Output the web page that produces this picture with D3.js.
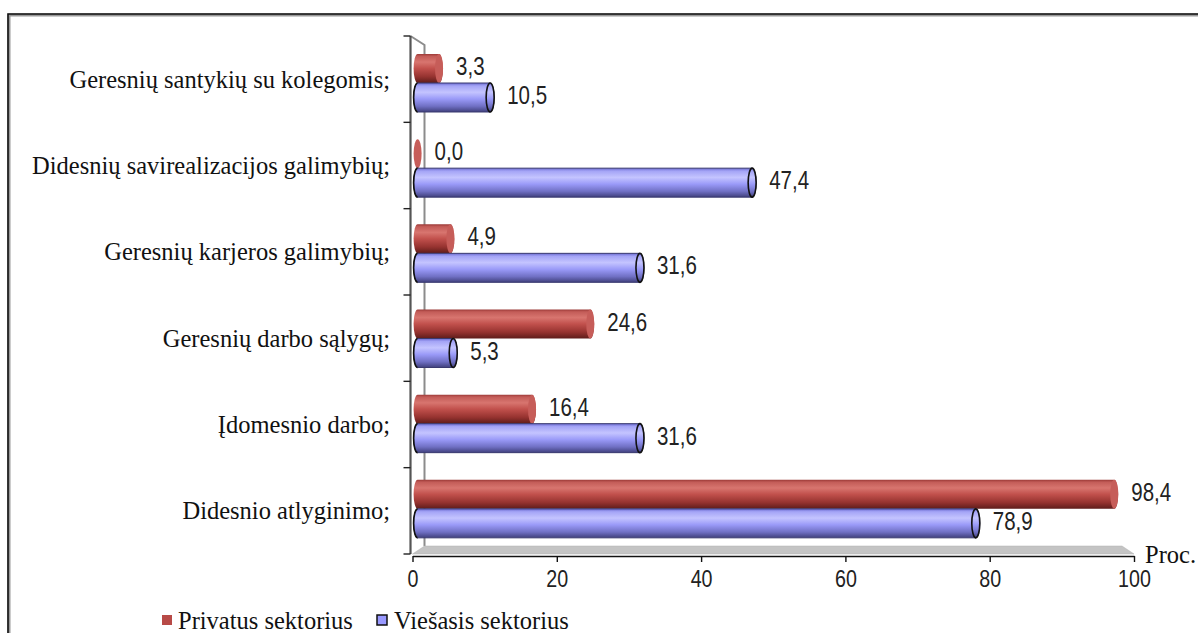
<!DOCTYPE html>
<html>
<head>
<meta charset="utf-8">
<script src="https://cdn.jsdelivr.net/npm/d3@7"></script>
<style>
  html, body { margin: 0; padding: 0; background: #fff; }
  svg { display: block; }
  .serif { font-family: "Liberation Serif", "Times New Roman", "DejaVu Serif", serif; }
  .sans { font-family: "Liberation Sans", Arial, sans-serif; }
</style>
</head>
<body>
<div id="chart"></div>
<script>
// categories from top to bottom
const categories = [
    'Geresnių santykių su kolegomis;',
    'Didesnių savirealizacijos galimybių;',
    'Geresnių karjeros galimybių;',
    'Geresnių darbo sąlygų;',
    'Įdomesnio darbo;',
    'Didesnio atlyginimo;'
];
const privatus = [3.3, 0.0, 4.9, 24.6, 16.4, 98.4];
const viesasis = [10.5, 47.4, 31.6, 5.3, 31.6, 78.9];
const seriesNames = ['Privatus sektorius', 'Viešasis sektorius'];
const xTicks = [0, 20, 40, 60, 80, 100];

const W = 1198, H = 633;
const narrow = 0.82; // squeeze Liberation Sans to look like Arial Narrow

const svg = d3.select('#chart').append('svg').attr('width', W).attr('height', H);
const defs = svg.append('defs');

function gradient(id, stops) {
    const g = defs.append('linearGradient').attr('id', id)
        .attr('x1', 0).attr('y1', 0).attr('x2', 0).attr('y2', 1);
    stops.forEach(s => g.append('stop').attr('offset', s[0]).attr('stop-color', s[1]));
}
gradient('gRed', [[0, '#9c3a37'], [0.08, '#c35c58'], [0.28, '#d8756f'], [0.5, '#c1504c'], [0.78, '#963330'], [1, '#5e1c1a']]);
gradient('gBlue', [[0, '#6a6ad0'], [0.1, '#a4a4f6'], [0.32, '#c4c4ff'], [0.55, '#9a9af8'], [0.8, '#7070c4'], [1, '#40407c']]);

// outer frame
svg.append('path')
    .attr('d', `M9 ${H} V15 H${W}`)
    .attr('fill', 'none').attr('stroke', '#999').attr('stroke-width', 3);
svg.append('path')
    .attr('d', `M8 ${H} V14 H${W}`)
    .attr('fill', 'none').attr('stroke', '#111').attr('stroke-width', 1.6);

// front axis scale and the (deeper) plane where bars sit
const x = d3.scaleLinear().domain([0, 100]).range([412.5, 1134]);
const xb = d3.scaleLinear().domain([0, 100]).range([419.6, 1129.6]);
const yAxis = d3.scaleBand().domain(categories).range([36, 554]);
const yBars = d3.scaleBand().domain(categories).range([50, 561]);
const depthX = 12, depthY = 8;
const x0 = x(0), yb = 554;

// side wall and floor
svg.append('path')
    .attr('d', `M${x0 - 2} 36 L${x0 + depthX} 45 V${yb - depthY}`)
    .attr('fill', 'none').attr('stroke', '#8c8c8c').attr('stroke-width', 2);
svg.append('polygon')
    .attr('points', [[x0, yb], [x0 + depthX, yb - depthY], [x(100) - depthX, yb - depthY], [x(100), yb]].join(' '))
    .attr('fill', '#c4c4c4').attr('stroke', '#b0b0b0').attr('stroke-width', 0.5);

// left axis with category ticks
const tickVals = categories.map(c => yAxis(c)).concat([yb]);
const leftAxis = svg.append('g');
leftAxis.append('line').attr('x1', x0 - 2).attr('x2', x0 - 2).attr('y1', 36).attr('y2', yb)
    .attr('stroke', '#555').attr('stroke-width', 2.2);
leftAxis.selectAll('line.tk').data(tickVals).join('line').attr('class', 'tk')
    .attr('x1', x0 - 9).attr('x2', x0 - 2).attr('y1', d => d).attr('y2', d => d)
    .attr('stroke', '#222').attr('stroke-width', 1.4);

leftAxis.selectAll('text.cat').data(categories).join('text').attr('class', 'cat serif')
    .attr('x', 390).attr('y', d => yAxis(d) + yAxis.bandwidth() / 2 + 3)
    .attr('text-anchor', 'end').attr('dominant-baseline', 'middle')
    .style('font-size', '24.5px').style('fill', '#111')
    .text(d => d);

// bottom axis
const bottom = svg.append('g').attr('transform', `translate(0,${yb + 2})`)
    .call(d3.axisBottom(x).tickValues(xTicks).tickSize(6).tickSizeOuter(0).tickFormat(d3.format('d')));
bottom.attr('font-family', null).attr('font-size', null);
bottom.select('.domain').attr('stroke', '#111').attr('stroke-width', 1.6);
bottom.selectAll('.tick line').attr('stroke', '#111').attr('stroke-width', 1.4);
bottom.selectAll('.tick text')
    .attr('class', 'sans')
    .attr('y', 11).attr('dy', '0.85em')
    .attr('transform', `scale(${narrow},1)`)
    .style('font-size', '24px').style('fill', '#222');

svg.append('text').attr('class', 'serif').attr('x', 1145).attr('y', 563)
    .style('font-size', '24.5px').style('fill', '#111')
    .text('Proc.');

// cylinder bars
const rx = 4, bh = 29;
function drawBar(g, v, y, fill, capFill, stroke) {
    const xs = xb(0) - 2, xe = Math.max(xb(v) - rx, xs);
    const ry = bh / 2;
    if (v > 0) {
        g.append('path')
            .attr('d', `M${xs} ${y} L${xe} ${y} A${rx} ${ry} 0 0 1 ${xe} ${y + bh} L${xs} ${y + bh} A${rx} ${ry} 0 0 1 ${xs} ${y} Z`)
            .attr('fill', fill)
            .attr('stroke', stroke || 'none').attr('stroke-width', stroke ? 1 : 0);
        if (stroke) {
            g.append('path')
                .attr('d', `M${xs} ${y + bh} A${rx} ${ry} 0 0 1 ${xs} ${y}`)
                .attr('fill', 'none').attr('stroke', '#111').attr('stroke-width', 1.6);
        }
    }
    g.append('ellipse').attr('cx', xe).attr('cy', y + ry).attr('rx', rx).attr('ry', ry)
        .attr('fill', capFill)
        .attr('stroke', stroke ? '#111' : 'none').attr('stroke-width', stroke ? 1.6 : 0);
}

const fmt = v => d3.format('.1f')(v).replace('.', ',');

const bars = svg.append('g');
categories.forEach((c, i) => {
    const yTop = yBars(c) + 4;
    drawBar(bars, privatus[i], yTop, 'url(#gRed)', '#c65d59', null);
    drawBar(bars, viesasis[i], yTop + bh, 'url(#gBlue)', 'url(#gBlue)', '#3a3a70');
});

// value labels
const labels = svg.append('g');
function valueLabel(v, y) {
    const lx = Math.max(xb(v), xb(0) + 2) + 13;
    labels.append('text').attr('class', 'sans')
        .attr('transform', `translate(${lx},${y}) scale(${narrow},1)`)
        .attr('dominant-baseline', 'middle')
        .style('font-size', '25px').style('fill', '#222')
        .text(fmt(v));
}
categories.forEach((c, i) => {
    const yTop = yBars(c) + 4;
    valueLabel(privatus[i], yTop + bh / 2);
    valueLabel(viesasis[i], yTop + bh + bh / 2);
});

// legend
const legend = svg.append('g');
legend.append('rect').attr('x', 162).attr('y', 615).attr('width', 10).attr('height', 10).attr('fill', '#b84a47');
legend.append('text').attr('class', 'serif').attr('x', 178).attr('y', 629)
    .style('font-size', '24.5px').style('fill', '#111').text(seriesNames[0]);
legend.append('rect').attr('x', 377).attr('y', 615).attr('width', 10).attr('height', 10)
    .attr('fill', '#9999ff').attr('stroke', '#111').attr('stroke-width', 1.5);
legend.append('text').attr('class', 'serif').attr('x', 394).attr('y', 629)
    .style('font-size', '24.5px').style('fill', '#111').text(seriesNames[1]);
</script>
</body>
</html>
